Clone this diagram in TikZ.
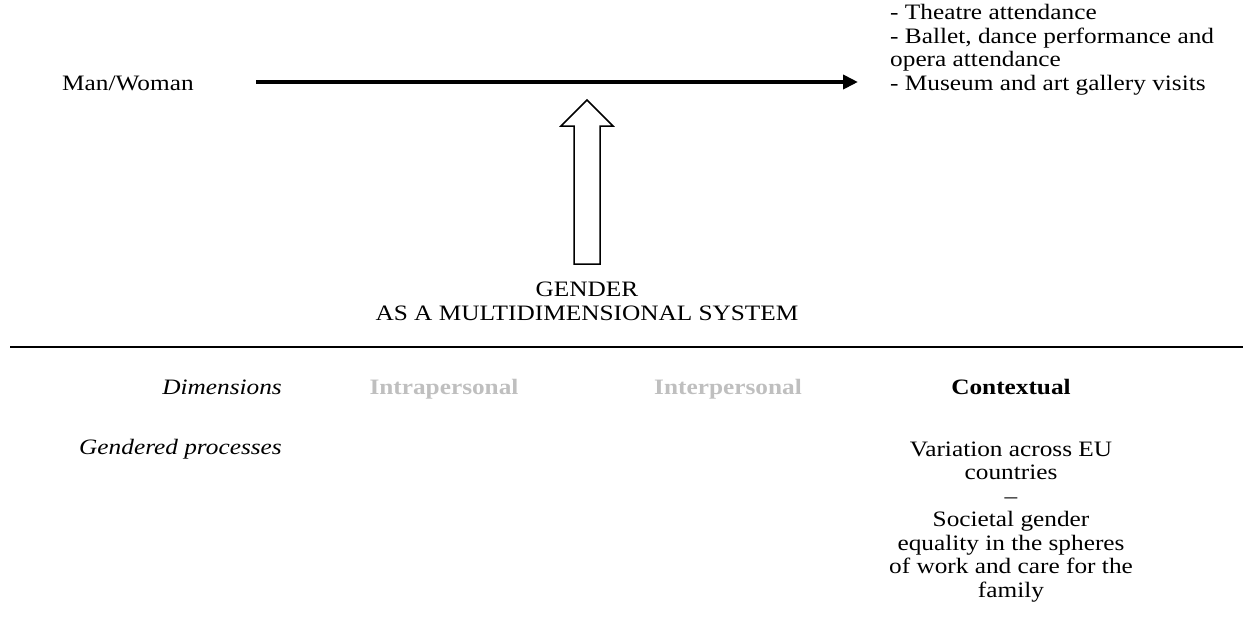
\documentclass[tikz,border=0pt]{standalone}
\usepackage{fontspec}
\setmainfont[FakeStretch=1.15]{Liberation Serif}
\usetikzlibrary{arrows.meta}
\definecolor{dimgray}{HTML}{BFBFBF}
\tikzset{
  txt/.style={inner sep=0pt, font=\fontsize{22}{23.5}\selectfont},
  dimlabel/.style={txt, font=\fontsize{22}{23.5}\selectfont\bfseries, anchor=base},
  rowlabel/.style={txt, font=\fontsize{22}{23.5}\selectfont\itshape, anchor=base east},
  mainarrow/.style={line width=4pt, -{Triangle[length=15pt,width=14pt]}},
  hollowarrow/.style={draw, line width=1.5pt, fill=white, line join=miter},
}
\begin{document}
\begin{tikzpicture}[x=1pt,y=-1pt]
  \useasboundingbox (0,0) rectangle (1247,638);

  % outcome relation (base anchor of a multi-line node = last line)
  \node[txt, anchor=base west] (sex) at (62,90) {Man/Woman};
  \node[txt, anchor=base west, align=left] (out) at (890,90)
    {- Theatre attendance\\- Ballet, dance performance and\\opera attendance\\- Museum and art gallery visits};
  \coordinate (from) at (256,82);
  \coordinate (to) at (858,82);
  \draw[mainarrow] (from) -- (to);

  % moderating arrow
  \draw[hollowarrow] (574,264) -- (574,126) -- (561,126) -- (587,100)
    -- (613,126) -- (600,126) -- (600,264) -- cycle;

  \node[txt, align=center, anchor=base] (gender) at (587,320)
    {GENDER\\AS A MULTIDIMENSIONAL SYSTEM};

  \coordinate (rl) at (10,347);
  \coordinate (rr) at (1243,347);
  \draw[line width=2pt] (rl) -- (rr);

  % dimensions table
  \node[rowlabel] (dimlab) at (282,394) {Dimensions};
  \node[dimlabel, text=dimgray] (intra) at (444,394) {Intrapersonal};
  \node[dimlabel, text=dimgray] (inter) at (728,394) {Interpersonal};
  \node[dimlabel] (ctx) at (1011,394) {Contextual};

  \node[rowlabel] (proclab) at (282,454) {Gendered processes};
  \node[txt, align=center, anchor=base] (proc) at (1011,597)
    {Variation across EU\\countries\\--\\Societal gender\\equality in the spheres\\of work and care for the\\family};
\end{tikzpicture}
\end{document}
